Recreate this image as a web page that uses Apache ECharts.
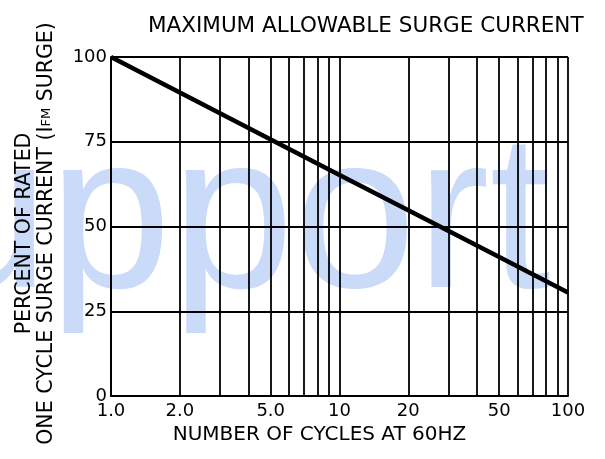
<!DOCTYPE html>
<html>
<head>
<meta charset="utf-8">
<script src="https://cdn.jsdelivr.net/npm/echarts@6/dist/echarts.min.js"></script>
<style>
    html, body {margin: 0; padding: 0; background: #fff;}
    #main {width: 605px; height: 459px;}
</style>
</head>
<body>
<div id="main"></div>
<script>
let cycles = [1, 2, 5, 10, 20, 50, 100];                 // 周期数
let surgePercent = [100, 89.5, 75.7, 65.2, 54.8, 41, 30.5]; // 额定浪涌百分比
let xLabelValues = [1, 2, 5, 10, 20, 50, 100];
let xGridValues = [1, 2, 3, 4, 5, 6, 7, 8, 9, 10, 20, 30, 40, 50, 60, 70, 80, 90, 100];
let yTicks = [0, 25, 50, 75, 100];

let font = 'DejaVu Sans';
let myChart = echarts.init(document.getElementById('main'));

let option = {
    animation: false,
    backgroundColor: '#fff',
    title: {
        text: 'MAXIMUM ALLOWABLE SURGE CURRENT',
        left: 143,
        top: 10,
        textStyle: {fontFamily: font, fontSize: 21.5, fontWeight: 'normal', color: '#000'}
    },
    graphic: [{
        type: 'text',
        z: -10,
        left: -220,
        top: 116,
        silent: true,
        style: {
            text: 'Support',
            fontFamily: 'Liberation Sans',
            fontSize: 220,
            fill: '#c9dbf8'
        }
    }],
    grid: {left: 111, right: 37, top: 57, bottom: 63},
    xAxis: {
        type: 'log',
        logBase: 10,
        min: 1,
        max: 100,
        name: 'NUMBER OF CYCLES AT 60HZ',
        nameLocation: 'middle',
        nameGap: 24,
        nameTextStyle: {fontFamily: font, fontSize: 20, color: '#000', padding: [0, 40, 0, 0]},
        axisLine: {lineStyle: {color: '#000', width: 2}},
        axisTick: {show: false, customValues: xGridValues},
        axisLabel: {
            customValues: xLabelValues,
            fontFamily: font, fontSize: 18, color: '#000', margin: 6,
            formatter: (v) => v < 10 ? Number(v).toFixed(1) : String(v)
        },
        splitLine: {show: true, lineStyle: {color: '#000', width: 1.8}}
    },
    yAxis: {
        type: 'value',
        min: yTicks[0],
        max: yTicks[yTicks.length - 1],
        interval: 25,
        name: 'PERCENT OF RATED\nONE CYCLE SURGE CURRENT (I{s|FM} SURGE)',
        nameLocation: 'middle',
        nameGap: 53,
        nameTextStyle: {
            fontFamily: font, fontSize: 20.5, color: '#000', lineHeight: 22,
            padding: [0, 14, 0, 0],
            rich: {s: {fontFamily: font, fontSize: 13, color: '#000'}}
        },
        axisLine: {show: true, lineStyle: {color: '#000', width: 2}},
        axisTick: {show: false},
        axisLabel: {fontFamily: font, fontSize: 18, color: '#000', margin: 4},
        splitLine: {show: true, lineStyle: {color: '#000', width: 2.2}}
    },
    series: [{
        type: 'line',
        silent: true,
        symbol: 'none',
        data: cycles.map((c, i) => [c, surgePercent[i]]),
        lineStyle: {color: '#000', width: 4.5}
    }]
};

myChart.setOption(option);
</script>
</body>
</html>
